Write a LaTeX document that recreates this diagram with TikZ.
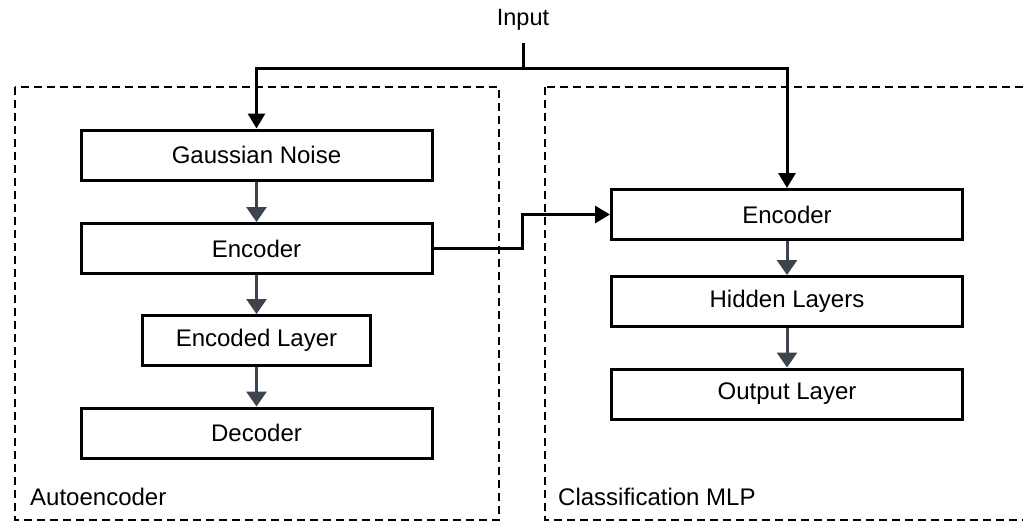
\documentclass[tikz,border=0pt]{standalone}
\usepackage{fontspec}
\setmainfont{Liberation Sans}
\usetikzlibrary{arrows.meta}
\definecolor{flowgray}{HTML}{3E444E}
\begin{document}
\begin{tikzpicture}[x=1pt,y=-1pt,
  layer/.style={draw=black,line width=3pt,fill=white,inner sep=0pt,
    minimum width=351pt,minimum height=50pt,
    font=\fontsize{24}{28}\selectfont},
  narrowlayer/.style={layer,minimum width=228pt},
  group/.style={draw=black,line width=2.8pt,dash pattern=on 8pt off 5pt},
  grouplabel/.style={anchor=west,inner sep=0pt,font=\fontsize{24}{28}\selectfont},
  flow/.style={draw=flowgray,line width=3pt,-{Triangle[width=20pt,length=15pt]}},
  feed/.style={draw=black,line width=3pt,-{Triangle[width=17pt,length=15pt]}}]
\useasboundingbox (0,0) rectangle (1023,523);
\clip (0,0) rectangle (1023,523);
\fill[white] (0,0) rectangle (1023,523);

% group frames
\draw[group] (15,87) rectangle (499,520);
\draw[group] (545,87) rectangle (1040,520);
\node[grouplabel] (aelabel) at (30,497) {Autoencoder};
\node[grouplabel] (mlplabel) at (558,497) {Classification MLP};

% autoencoder stack
\node[layer] (noise) at (256.5,155) {Gaussian Noise};
\node[layer] (enc) at (256.5,248.5) {Encoder};
\node[narrowlayer] (code) at (256.5,340.5) {Encoded Layer};
\node[layer] (dec) at (256.5,433) {Decoder};

% classifier stack
\node[layer] (menc) at (787,214.5) {Encoder};
\node[layer] (hidden) at (787,301.5) {Hidden Layers};
\node[layer] (out) at (787,394) {Output Layer};

% input and its split
\node[inner sep=0pt,font=\fontsize{23.5}{27}\selectfont] (input) at (523,20) {Input};
\coordinate (split) at (523,68);
\draw[line width=3pt] (523,43) -- (split);
\draw[feed] (split) -| (noise.north);
\draw[feed] (split) -| (menc.north);

% flow arrows
\draw[flow] (noise) -- (enc);
\draw[flow] (enc) -- (code);
\draw[flow] (code) -- (dec);
\draw[flow] (menc) -- (hidden);
\draw[flow] (hidden) -- (out);

% trained encoder feeds the classifier
\coordinate (bend) at (522,248.5);
\draw[feed] (enc.east) -- (bend) |- (menc.west);
\end{tikzpicture}
\end{document}
